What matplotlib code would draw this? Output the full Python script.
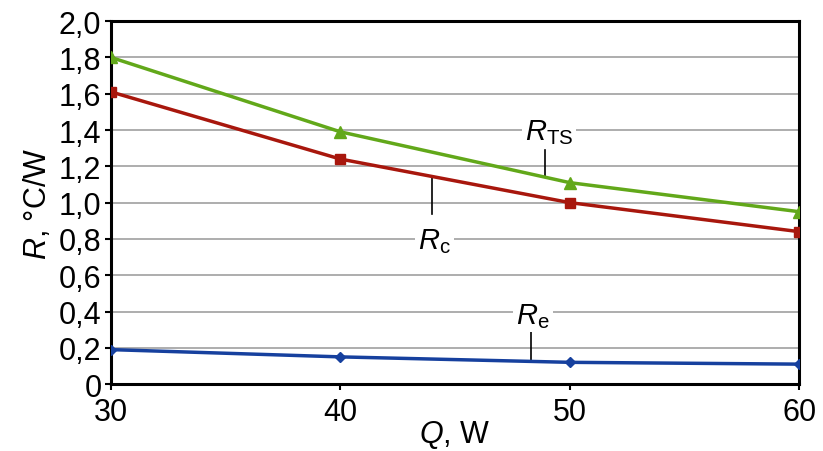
import matplotlib.pyplot as plt
from matplotlib.ticker import FuncFormatter

plt.rcParams['font.family'] = ['Liberation Sans', 'DejaVu Sans']
plt.rcParams['mathtext.fontset'] = 'custom'
plt.rcParams['mathtext.it'] = 'Liberation Sans:italic'
plt.rcParams['mathtext.rm'] = 'Liberation Sans'

# heat load, W
q = [30, 40, 50, 60]
# thermal resistances, °C/W
r_ts = [1.80, 1.39, 1.11, 0.95]
r_c = [1.61, 1.24, 1.00, 0.84]
r_e = [0.19, 0.15, 0.12, 0.11]

fig = plt.figure(figsize=(8.23, 4.52), dpi=100)
ax = fig.add_axes([0.135, 0.148, 0.836, 0.803])

ax.plot(q, r_ts, color='#62a81a', lw=2.5, marker='^', ms=8, zorder=3)
ax.plot(q, r_c, color='#a8170d', lw=2.5, marker='s', ms=7.5, zorder=3)
ax.plot(q, r_e, color='#16409e', lw=2.5, marker='D', ms=5.5, zorder=3)

ax.set_xlim(30, 60)
ax.set_ylim(0, 2.0)
ax.set_xticks([30, 40, 50, 60])
ax.set_yticks([i / 10 for i in range(0, 21, 2)])
ax.yaxis.set_major_formatter(FuncFormatter(
    lambda v, p: '0' if abs(v) < 1e-9 else f'{v:.1f}'.replace('.', ',')))
ax.grid(axis='y', color='#a0a0a0', lw=1.2)
ax.set_axisbelow(True)
for s in ax.spines.values():
    s.set_linewidth(2.2)
ax.tick_params(labelsize=22, length=4, width=1.5, pad=3)
ax.tick_params(axis='x', pad=5)

ax.set_xlabel('$Q$, W', fontsize=22, labelpad=-6)
ax.set_ylabel('$R$, \u00b0C/W', fontsize=22, labelpad=4)

# curve labels with leader lines
box = dict(facecolor='white', edgecolor='none', pad=2)
ax.text(49.1, 1.39, '$R_{\\rm TS}$', fontsize=21, ha='center', va='center', bbox=box)
ax.plot([48.9, 48.9], [1.29, 1.145], color='black', lw=1.2)
ax.text(44.1, 0.79, '$R_{\\rm c}$', fontsize=21, ha='center', va='center', bbox=box)
ax.plot([44.0, 44.0], [1.14, 0.94], color='black', lw=1.2)
ax.text(48.4, 0.38, '$R_{\\rm e}$', fontsize=21, ha='center', va='center', bbox=box)
ax.plot([48.3, 48.3], [0.29, 0.125], color='black', lw=1.2)

fig.savefig('out.png', dpi=100)
